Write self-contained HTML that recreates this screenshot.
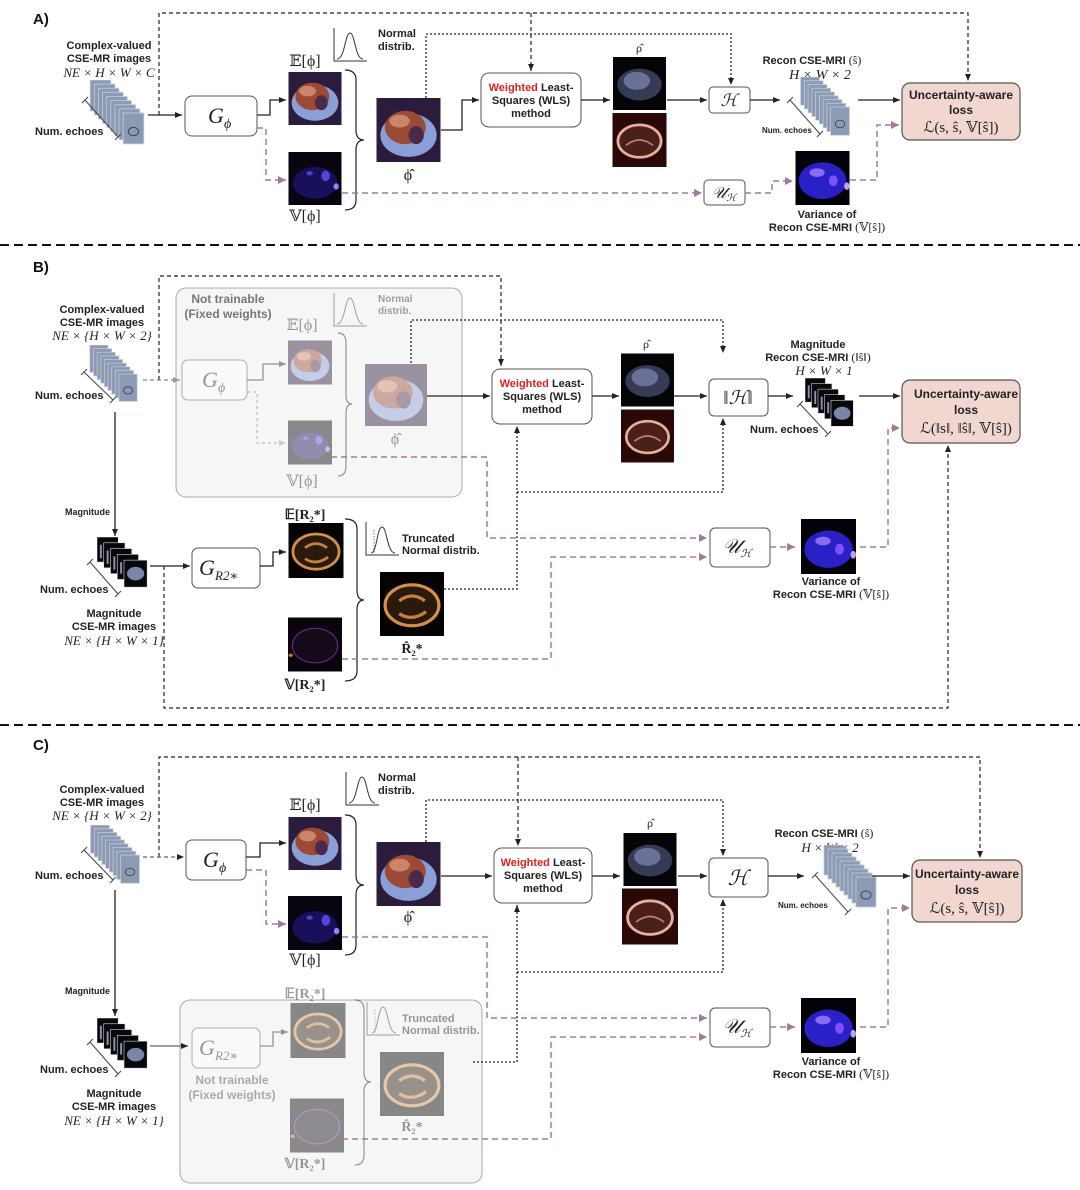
<!DOCTYPE html>
<html><head><meta charset="utf-8"><style>
html,body{margin:0;padding:0;background:#fff;}
svg{display:block;}
text{font-family:"Liberation Sans","DejaVu Sans",sans-serif;}
.b{font-weight:bold;font-size:11px;fill:#222;}
.m{font-family:"Liberation Serif","DejaVu Serif",serif;font-size:14px;fill:#222;}
.mi{font-family:"Liberation Serif","DejaVu Serif",serif;font-style:italic;font-size:13px;fill:#222;}
.box{fill:#fff;stroke:#555;stroke-width:1;}
.ln{fill:none;stroke:#222;stroke-width:1.3;}
.dt{fill:none;stroke:#222;stroke-width:1.3;stroke-dasharray:2,2;}
.ds{fill:none;stroke:#222;stroke-width:1.2;stroke-dasharray:4,3;}
.pp{fill:none;stroke:#a07a9c;stroke-width:1.5;stroke-dasharray:6,4;}
.br{fill:none;stroke:#222;stroke-width:1.2;}
.loss{fill:#f2d6d0;stroke:#555;stroke-width:1.2;}
</style></head><body>
<svg width="1080" height="1190" viewBox="0 0 1080 1190" xmlns="http://www.w3.org/2000/svg">
<defs>
<marker id="ak" markerWidth="8" markerHeight="8" refX="7" refY="4" orient="auto" markerUnits="userSpaceOnUse"><path d="M0,1 L7,4 L0,7z" fill="#222"/></marker>
<marker id="ag" markerWidth="8" markerHeight="8" refX="7" refY="4" orient="auto" markerUnits="userSpaceOnUse"><path d="M0,1 L7,4 L0,7z" fill="#999"/></marker>
<marker id="ap" markerWidth="10" markerHeight="10" refX="8" refY="5" orient="auto" markerUnits="userSpaceOnUse"><path d="M0,1 L8,5 L0,9z" fill="#a07a9c"/></marker>
<symbol id="phiE" viewBox="0 0 100 100"><rect width="100" height="100" fill="#2b1b3c"/><ellipse cx="50" cy="58" rx="44" ry="34" fill="#8a9ed8"/><ellipse cx="45" cy="46" rx="32" ry="26" fill="#9a4a35"/><ellipse cx="36" cy="36" rx="16" ry="10" fill="#e0a080" opacity=".7"/><ellipse cx="62" cy="58" rx="12" ry="14" fill="#4a2a48"/></symbol>
<symbol id="phiV" viewBox="0 0 100 100"><rect width="100" height="100" fill="#07050f"/><ellipse cx="50" cy="58" rx="42" ry="30" fill="#18105a"/><ellipse cx="70" cy="45" rx="8" ry="10" fill="#6a50ff" opacity=".8"/><ellipse cx="40" cy="40" rx="6" ry="4" fill="#5040d0"/><ellipse cx="90" cy="65" rx="5" ry="6" fill="#9a80ff"/></symbol>
<symbol id="rho1" viewBox="0 0 100 100"><rect width="100" height="100" fill="#050508"/><ellipse cx="50" cy="52" rx="42" ry="30" fill="#353a55"/><ellipse cx="45" cy="45" rx="25" ry="17" fill="#6a7096"/></symbol>
<symbol id="rho2" viewBox="0 0 100 100"><rect width="100" height="100" fill="#2a0806"/><ellipse cx="50" cy="52" rx="40" ry="30" fill="#4a2018" stroke="#e6b0a0" stroke-width="5"/><path d="M25 60 Q50 40 75 60" stroke="#c08070" stroke-width="3" fill="none"/></symbol>
<symbol id="r2E" viewBox="0 0 100 100"><rect width="100" height="100" fill="#050302"/><ellipse cx="50" cy="52" rx="42" ry="32" fill="#2a1a0e" stroke="#d49048" stroke-width="5"/><path d="M30 45 Q50 30 70 45 M30 65 Q50 78 72 62" stroke="#c88038" stroke-width="5" fill="none"/></symbol>
<symbol id="r2V" viewBox="0 0 100 100"><rect width="100" height="100" fill="#0a050c"/><ellipse cx="50" cy="52" rx="42" ry="32" fill="#140a1a" stroke="#6a2a8a" stroke-width="2"/><ellipse cx="5" cy="70" rx="4" ry="3" fill="#c07a30"/></symbol>
<symbol id="varS" viewBox="0 0 100 100"><rect width="100" height="100" fill="#030208"/><ellipse cx="50" cy="55" rx="44" ry="34" fill="#2a20c8"/><ellipse cx="40" cy="40" rx="14" ry="8" fill="#a080ff" opacity=".8"/><ellipse cx="70" cy="55" rx="8" ry="10" fill="#8050ff"/><ellipse cx="95" cy="65" rx="5" ry="7" fill="#c0a0ff"/></symbol>
<symbol id="stk" viewBox="0 0 60 66"><g fill="#8d9ab3" stroke="#c4cbd9" stroke-width=".8"><rect x="4" y="0" width="20" height="30"/><rect x="8" y="4" width="20" height="30"/><rect x="12" y="8" width="20" height="30"/><rect x="16" y="12" width="20" height="30"/><rect x="20" y="16" width="20" height="30"/><rect x="24" y="20" width="20" height="30"/><rect x="28" y="24" width="20" height="30"/><rect x="32" y="28" width="20" height="30"/><rect x="36" y="32" width="20" height="30"/></g><ellipse cx="46" cy="50" rx="5" ry="4" fill="none" stroke="#445" stroke-width="1"/></symbol>
<symbol id="mstk" viewBox="0 0 56 56"><g fill="#08080c" stroke="#ddd" stroke-width=".6"><rect x="0" y="0" width="22" height="26"/><rect x="7" y="6" width="22" height="26"/><rect x="14" y="12" width="22" height="26"/><rect x="21" y="18" width="22" height="26"/><rect x="28" y="24" width="24" height="28"/></g><ellipse cx="40" cy="38" rx="9" ry="7" fill="#7a86a8"/><path d="M4 8v14M11 14v14M18 20v14M25 26v12" stroke="#8a94b8" stroke-width="2"/></symbol>
<symbol id="nrm" viewBox="0 0 34 34"><path d="M1 0V33H34" fill="none" stroke="#333" stroke-width="1"/><path d="M4 31 C12 31 12 5 17 5 C22 5 22 31 30 31" fill="none" stroke="#333" stroke-width="1"/></symbol>
<symbol id="trn" viewBox="0 0 34 34"><path d="M1 0V33H34" fill="none" stroke="#333" stroke-width="1"/><path d="M6 31 C12 31 12 5 17 5 C22 5 22 31 30 31" fill="none" stroke="#333" stroke-width="1"/><path d="M9 8V31" stroke="#555" stroke-width=".8" stroke-dasharray="1.5,1.5"/></symbol>
</defs>

<line x1="0" y1="245" x2="1080" y2="245" stroke="#111" stroke-width="2" stroke-dasharray="9,5"/>
<line x1="0" y1="725" x2="1080" y2="725" stroke="#111" stroke-width="2" stroke-dasharray="9,5"/>

<!-- ================= A ================= -->
<text x="33" y="24" style="font-size:15px;font-weight:bold" fill="#111">A)</text>
<text class="b" x="109" y="49" text-anchor="middle">Complex-valued</text>
<text class="b" x="109" y="62" text-anchor="middle">CSE-MR images</text>
<text class="mi" x="109" y="77" text-anchor="middle">NE × H × W × C</text>
<use href="#stk" x="86" y="80" width="62" height="68"/>
<path d="M85 100 L118 137 M82 103 L88 97 M115 140 L121 134" stroke="#444" stroke-width="1"/>
<text class="b" x="35" y="135">Num. echoes</text>
<path class="ds" d="M159 115 V13 H968 V81" marker-end="url(#ak)"/>
<path class="ds" d="M531 13 V71" marker-end="url(#ak)"/>
<path class="ln" d="M148 115 H182" marker-end="url(#ak)"/>
<rect class="box" x="185" y="96" width="72" height="40" rx="7"/>
<text class="mi" x="208" y="123" style="font-size:22px">G</text><text class="mi" x="224" y="128" style="font-size:14px">ϕ</text>
<path class="ln" d="M257 115 H270 V100 H286" marker-end="url(#ak)"/>
<path class="pp" d="M257 128 H266 V180 H286" marker-end="url(#ap)"/>
<text class="m" x="305" y="66" text-anchor="middle" style="font-size:16px">𝔼[ϕ]</text>
<use href="#phiE" x="288" y="72" width="54" height="53"/>
<use href="#phiV" x="288" y="152" width="54" height="53"/>
<text class="m" x="305" y="221" text-anchor="middle" style="font-size:16px">𝕍[ϕ]</text>
<path class="br" d="M345 70 Q356 70 356 80 V130 Q356 140 364 140 Q356 140 356 150 V200 Q356 210 345 210"/>
<use href="#nrm" x="333" y="28" width="34" height="34"/>
<text class="b" x="378" y="37">Normal</text><text class="b" x="378" y="50">distrib.</text>
<use href="#phiE" x="376" y="98" width="65" height="64"/>
<text class="m" x="408" y="180" text-anchor="middle" style="font-size:16px">ϕ̂</text>
<path class="dt" d="M426 98 V34 H731 V85" marker-end="url(#ak)"/>
<path class="ln" d="M441 130 H462 V100 H479" marker-end="url(#ak)"/>
<rect class="box" x="481" y="73" width="100" height="54" rx="8"/>
<text class="b" x="531" y="91" text-anchor="middle"><tspan fill="#e02020">Weighted</tspan> Least-</text>
<text class="b" x="531" y="104" text-anchor="middle">Squares (WLS)</text>
<text class="b" x="531" y="117" text-anchor="middle">method</text>
<path class="ln" d="M581 100 H610" marker-end="url(#ak)"/>
<text class="m" x="639" y="52" text-anchor="middle" style="font-size:12px">ρ̂</text>
<use href="#rho1" x="612" y="57" width="55" height="53"/>
<use href="#rho2" x="612" y="113" width="55" height="54"/>
<path class="ln" d="M667 100 H707" marker-end="url(#ak)"/>
<rect class="box" x="709" y="87" width="41" height="26" rx="4"/>
<text class="mi" x="729" y="106" text-anchor="middle" style="font-size:17px">ℋ</text>
<path class="ln" d="M750 100 H780" marker-end="url(#ak)"/>
<text class="b" x="812" y="64" text-anchor="middle">Recon CSE-MRI <tspan class="m" style="font-size:12px;font-weight:normal">(ŝ)</tspan></text>
<text class="mi" x="820" y="79" text-anchor="middle" style="font-size:14px">H × W × 2</text>
<use href="#stk" x="795" y="77" width="60" height="62"/>
<path d="M790 100 L820 134 M787 103 L793 97 M817 137 L823 131" stroke="#444" stroke-width="1"/>
<text x="762" y="133" style="font-size:8px;font-weight:bold" fill="#222">Num. echoes</text>
<path class="ln" d="M858 100 H900" marker-end="url(#ak)"/>
<rect class="loss" x="902" y="83" width="118" height="57" rx="8"/>
<text class="b" x="961" y="99" text-anchor="middle" style="font-size:12px">Uncertainty-aware</text>
<text class="b" x="961" y="114" text-anchor="middle" style="font-size:12px">loss</text>
<text class="m" x="961" y="132" text-anchor="middle" style="font-size:15px">ℒ(s, ŝ, 𝕍[ŝ])</text>
<path class="pp" d="M342 193 H702" marker-end="url(#ap)"/>
<rect class="box" x="704" y="180" width="41" height="25" rx="4"/>
<text class="mi" x="724" y="198" text-anchor="middle" style="font-size:16px">𝒰<tspan style="font-size:10px" dy="3">ℋ</tspan></text>
<path class="pp" d="M745 193 H772 V181 H793" marker-end="url(#ap)"/>
<use href="#varS" x="795" y="151" width="55" height="54"/>
<text class="b" x="827" y="218" text-anchor="middle">Variance of</text>
<text class="b" x="827" y="231" text-anchor="middle">Recon CSE-MRI <tspan class="m" style="font-size:12px;font-weight:normal">(𝕍[ŝ])</tspan></text>
<path class="pp" d="M850 180 H877 V125 H899" marker-end="url(#ap)"/>

<!-- ================= B ================= -->
<text x="33" y="272" style="font-size:15px;font-weight:bold" fill="#111">B)</text>
<rect x="176" y="288" width="286" height="209" rx="10" fill="#f6f6f6" stroke="#aaa" stroke-width="1"/>
<text x="228" y="303" style="font-size:12px;font-weight:bold" fill="#777" text-anchor="middle">Not trainable</text>
<text x="228" y="318" style="font-size:12px;font-weight:bold" fill="#777" text-anchor="middle">(Fixed weights)</text>
<text class="b" x="102" y="313" text-anchor="middle">Complex-valued</text>
<text class="b" x="102" y="326" text-anchor="middle">CSE-MR images</text>
<text class="mi" x="102" y="340" text-anchor="middle">NE × {H × W × 2}</text>
<use href="#stk" x="86" y="345" width="55" height="60"/>
<path d="M84 372 L113 400 M81 375 L87 369 M110 403 L116 397" stroke="#444" stroke-width="1"/>
<text class="b" x="35" y="399">Num. echoes</text>
<path class="ds" d="M159 380 V276 H501 V366" marker-end="url(#ak)"/>
<path d="M143 380 H180" fill="none" stroke="#888" stroke-width="1.2" stroke-dasharray="4,3" marker-end="url(#ag)"/>
<g opacity="0.45">
<rect class="box" x="182" y="360" width="65" height="40" rx="6"/>
<text class="mi" x="202" y="387" style="font-size:22px">G</text><text class="mi" x="218" y="392" style="font-size:14px">ϕ</text>
<path class="ln" d="M247 380 H263 V364 H286" marker-end="url(#ak)"/>
<path d="M247 392 H257 V443 H286" fill="none" stroke="#777" stroke-width="1.2" stroke-dasharray="3,3" marker-end="url(#ag)"/>
<text class="m" x="302" y="330" text-anchor="middle" style="font-size:16px">𝔼[ϕ]</text>
<use href="#phiE" x="288" y="336" width="44" height="53"/>
<use href="#phiV" x="288" y="416" width="44" height="53"/>
<text class="m" x="302" y="486" text-anchor="middle" style="font-size:16px">𝕍[ϕ]</text>
<path class="br" d="M338 333 Q346 333 346 343 V395 Q346 404 352 404 Q346 404 346 414 V466 Q346 476 338 476"/>
<use href="#nrm" x="333" y="293" width="34" height="34"/>
<text x="378" y="302" style="font-size:10px;font-weight:bold" fill="#333">Normal</text><text x="378" y="314" style="font-size:10px;font-weight:bold" fill="#333">distrib.</text>
<use href="#phiE" x="365" y="363" width="62" height="64"/>
<text class="m" x="395" y="444" text-anchor="middle" style="font-size:16px">ϕ̂</text>
</g>
<path class="dt" d="M411 363 V320 H723 V353" marker-end="url(#ak)"/>
<path class="ln" d="M427 396 H490" marker-end="url(#ak)"/>
<rect class="box" x="492" y="369" width="100" height="55" rx="8"/>
<text class="b" x="542" y="387" text-anchor="middle"><tspan fill="#e02020">Weighted</tspan> Least-</text>
<text class="b" x="542" y="400" text-anchor="middle">Squares (WLS)</text>
<text class="b" x="542" y="413" text-anchor="middle">method</text>
<path class="ln" d="M592 396 H619" marker-end="url(#ak)"/>
<text class="m" x="646" y="348" text-anchor="middle" style="font-size:12px">ρ̂</text>
<use href="#rho1" x="621" y="353" width="53" height="54"/>
<use href="#rho2" x="621" y="409" width="53" height="54"/>
<path class="ln" d="M674 396 H707" marker-end="url(#ak)"/>
<rect class="box" x="709" y="379" width="59" height="37" rx="5"/>
<text class="mi" x="738" y="404" text-anchor="middle" style="font-size:19px">‖ℋ‖</text>
<path class="ln" d="M768 396 H793" marker-end="url(#ak)"/>
<text class="b" x="818" y="348" text-anchor="middle">Magnitude</text>
<text class="b" x="818" y="361" text-anchor="middle">Recon CSE-MRI <tspan class="m" style="font-size:12px;font-weight:normal">(‖ŝ‖)</tspan></text>
<text class="mi" x="824" y="375" text-anchor="middle">H × W × 1</text>
<use href="#mstk" x="805" y="378" width="52" height="52"/>
<path d="M800 404 L828 434 M797 407 L803 401 M825 437 L831 431" stroke="#444" stroke-width="1"/>
<text class="b" x="750" y="433">Num. echoes</text>
<path class="ln" d="M859 396 H900" marker-end="url(#ak)"/>
<rect class="loss" x="902" y="380" width="118" height="63" rx="8"/>
<text class="b" x="966" y="398" text-anchor="middle" style="font-size:12px">Uncertainty-aware</text>
<text class="b" x="966" y="414" text-anchor="middle" style="font-size:12px">loss</text>
<text class="m" x="966" y="433" text-anchor="middle" style="font-size:15px">ℒ(‖s‖, ‖ŝ‖, 𝕍[ŝ])</text>
<path class="dt" d="M444 589 H517 V426" marker-end="url(#ak)"/>
<path class="dt" d="M517 492 H723 V418" marker-end="url(#ak)"/>
<path class="ln" d="M115 412 V536" marker-end="url(#ak)"/>
<text class="b" x="65" y="515" style="font-size:9px">Magnitude</text>
<use href="#mstk" x="97" y="537" width="54" height="54"/>
<path d="M90 562 L118 594 M87 565 L93 559 M115 597 L121 591" stroke="#444" stroke-width="1"/>
<text class="b" x="40" y="593">Num. echoes</text>
<text class="b" x="114" y="617" text-anchor="middle">Magnitude</text>
<text class="b" x="114" y="630" text-anchor="middle">CSE-MR images</text>
<text class="mi" x="114" y="645" text-anchor="middle">NE × {H × W × 1}</text>
<path class="ln" d="M150 566 H190" marker-end="url(#ak)"/>
<path class="ds" d="M164 566 V708 H948 V445" marker-end="url(#ak)"/>
<rect class="box" x="192" y="548" width="68" height="40" rx="6"/>
<text class="mi" x="199" y="575" style="font-size:22px">G</text><text class="mi" x="215" y="580" style="font-size:13px">R2∗</text>
<path class="ln" d="M260 566 H273 V552 H286" marker-end="url(#ak)"/>
<text class="m" x="305" y="519" text-anchor="middle" style="font-weight:bold">𝔼[R₂*]</text>
<use href="#r2E" x="288" y="523" width="56" height="55"/>
<use href="#r2V" x="288" y="617" width="54" height="55"/>
<text class="m" x="305" y="689" text-anchor="middle" style="font-weight:bold">𝕍[R₂*]</text>
<path class="br" d="M345 519 Q357 519 357 529 V590 Q357 600 364 600 Q357 600 357 610 V671 Q357 681 345 681"/>
<use href="#trn" x="365" y="522" width="34" height="34"/>
<text class="b" x="402" y="542">Truncated</text><text class="b" x="402" y="554">Normal distrib.</text>
<use href="#r2E" x="380" y="572" width="64" height="64"/>
<text class="m" x="412" y="653" text-anchor="middle" style="font-weight:bold">R̂₂*</text>
<path class="pp" d="M331 457 H487 V538 H707" marker-end="url(#ap)"/>
<path class="pp" d="M342 659 H551 V557 H707" marker-end="url(#ap)"/>
<rect class="box" x="710" y="528" width="60" height="39" rx="5"/>
<text class="mi" x="737" y="553" text-anchor="middle" style="font-size:20px">𝒰<tspan style="font-size:11px" dy="4">ℋ</tspan></text>
<path class="pp" d="M770 547 H795" marker-end="url(#ap)"/>
<use href="#varS" x="797" y="519" width="63" height="55"/>
<text class="b" x="831" y="585" text-anchor="middle">Variance of</text>
<text class="b" x="831" y="598" text-anchor="middle">Recon CSE-MRI <tspan class="m" style="font-size:12px;font-weight:normal">(𝕍[ŝ])</tspan></text>
<path class="pp" d="M860 547 H888 V428 H900" marker-end="url(#ap)"/>

<!-- ================= C ================= -->
<text x="33" y="750" style="font-size:15px;font-weight:bold" fill="#111">C)</text>
<rect x="180" y="1000" width="302" height="183" rx="10" fill="#f6f6f6" stroke="#aaa" stroke-width="1"/>
<text class="b" x="102" y="793" text-anchor="middle">Complex-valued</text>
<text class="b" x="102" y="806" text-anchor="middle">CSE-MR images</text>
<text class="mi" x="102" y="820" text-anchor="middle">NE × {H × W × 2}</text>
<use href="#stk" x="86" y="825" width="58" height="62"/>
<path d="M84 850 L113 880 M81 853 L87 847 M110 883 L116 877" stroke="#444" stroke-width="1"/>
<text class="b" x="35" y="879">Num. echoes</text>
<path class="ds" d="M159 857 V757 H980 V858" marker-end="url(#ak)"/>
<path class="ds" d="M518 757 V846" marker-end="url(#ak)"/>
<path d="M143 857 H184" fill="none" stroke="#666" stroke-width="1.2" stroke-dasharray="4,3" marker-end="url(#ak)"/>
<rect class="box" x="186" y="840" width="60" height="40" rx="6"/>
<text class="mi" x="203" y="867" style="font-size:22px">G</text><text class="mi" x="219" y="872" style="font-size:14px">ϕ</text>
<path class="ln" d="M246 857 H260 V843 H286" marker-end="url(#ak)"/>
<path class="pp" d="M246 870 H266 V924 H286" marker-end="url(#ap)"/>
<text class="m" x="305" y="810" text-anchor="middle" style="font-size:16px">𝔼[ϕ]</text>
<use href="#phiE" x="288" y="817" width="54" height="53"/>
<use href="#phiV" x="288" y="896" width="54" height="54"/>
<text class="m" x="305" y="965" text-anchor="middle" style="font-size:16px">𝕍[ϕ]</text>
<path class="br" d="M345 815 Q356 815 356 825 V875 Q356 885 364 885 Q356 885 356 895 V945 Q356 955 345 955"/>
<use href="#nrm" x="345" y="772" width="34" height="34"/>
<text class="b" x="378" y="781">Normal</text><text class="b" x="378" y="794">distrib.</text>
<use href="#phiE" x="376" y="842" width="65" height="64"/>
<text class="m" x="408" y="922" text-anchor="middle" style="font-size:16px">ϕ̂</text>
<path class="dt" d="M426 842 V800 H723 V856" marker-end="url(#ak)"/>
<path class="ln" d="M441 876 H492" marker-end="url(#ak)"/>
<rect class="box" x="494" y="848" width="98" height="55" rx="8"/>
<text class="b" x="543" y="866" text-anchor="middle"><tspan fill="#e02020">Weighted</tspan> Least-</text>
<text class="b" x="543" y="879" text-anchor="middle">Squares (WLS)</text>
<text class="b" x="543" y="892" text-anchor="middle">method</text>
<path class="ln" d="M592 876 H620" marker-end="url(#ak)"/>
<text class="m" x="650" y="827" text-anchor="middle" style="font-size:12px">ρ̂</text>
<use href="#rho1" x="622" y="833" width="56" height="53"/>
<use href="#rho2" x="622" y="888" width="56" height="57"/>
<path class="ln" d="M678 876 H707" marker-end="url(#ak)"/>
<rect class="box" x="709" y="858" width="59" height="39" rx="5"/>
<text class="mi" x="738" y="885" text-anchor="middle" style="font-size:21px">ℋ</text>
<path class="ln" d="M768 876 H804" marker-end="url(#ak)"/>
<text class="b" x="824" y="837" text-anchor="middle">Recon CSE-MRI <tspan class="m" style="font-size:12px;font-weight:normal">(ŝ)</tspan></text>
<text class="mi" x="830" y="852" text-anchor="middle">H × W × 2</text>
<use href="#stk" x="820" y="845" width="60" height="66"/>
<path d="M815 875 L848 912 M812 878 L818 872 M845 915 L851 909" stroke="#444" stroke-width="1"/>
<text x="778" y="908" style="font-size:8px;font-weight:bold" fill="#222">Num. echoes</text>
<path class="ln" d="M872 876 H910" marker-end="url(#ak)"/>
<rect class="loss" x="912" y="860" width="110" height="62" rx="8"/>
<text class="b" x="967" y="878" text-anchor="middle" style="font-size:12px">Uncertainty-aware</text>
<text class="b" x="967" y="894" text-anchor="middle" style="font-size:12px">loss</text>
<text class="m" x="967" y="913" text-anchor="middle" style="font-size:15px">ℒ(s, ŝ, 𝕍[ŝ])</text>
<path class="dt" d="M473 1062 H517 V905" marker-end="url(#ak)"/>
<path class="dt" d="M517 972 H723 V899" marker-end="url(#ak)"/>
<path class="ln" d="M115 890 V1016" marker-end="url(#ak)"/>
<text class="b" x="65" y="994" style="font-size:9px">Magnitude</text>
<use href="#mstk" x="97" y="1018" width="54" height="54"/>
<path d="M90 1042 L118 1074 M87 1045 L93 1039 M115 1077 L121 1071" stroke="#444" stroke-width="1"/>
<text class="b" x="40" y="1073">Num. echoes</text>
<text class="b" x="114" y="1097" text-anchor="middle">Magnitude</text>
<text class="b" x="114" y="1110" text-anchor="middle">CSE-MR images</text>
<text class="mi" x="114" y="1125" text-anchor="middle">NE × {H × W × 1}</text>
<path d="M150 1046 H188" fill="none" stroke="#666" stroke-width="1.3" marker-end="url(#ak)"/>
<g opacity="0.45">
<rect class="box" x="192" y="1028" width="68" height="40" rx="6"/>
<text class="mi" x="199" y="1055" style="font-size:22px">G</text><text class="mi" x="215" y="1060" style="font-size:13px">R2∗</text>
<path class="ln" d="M260 1046 H273 V1032 H288" marker-end="url(#ak)"/>
<text class="m" x="305" y="998" text-anchor="middle" style="font-weight:bold">𝔼[R₂*]</text>
<use href="#r2E" x="290" y="1003" width="56" height="55"/>
<use href="#r2V" x="290" y="1098" width="54" height="55"/>
<text class="m" x="305" y="1168" text-anchor="middle" style="font-weight:bold">𝕍[R₂*]</text>
<path class="br" d="M355 1000 Q364 1000 364 1010 V1072 Q364 1082 371 1082 Q364 1082 364 1092 V1155 Q364 1165 355 1165"/>
<use href="#trn" x="366" y="1002" width="34" height="34"/>
<text class="b" x="402" y="1022">Truncated</text><text class="b" x="402" y="1034">Normal distrib.</text>
<use href="#r2E" x="380" y="1052" width="64" height="64"/>
<text class="m" x="412" y="1131" text-anchor="middle" style="font-weight:bold">R̂₂*</text>
</g>
<text x="232" y="1084" style="font-size:12px;font-weight:bold" fill="#aaa" text-anchor="middle">Not trainable</text>
<text x="232" y="1099" style="font-size:12px;font-weight:bold" fill="#aaa" text-anchor="middle">(Fixed weights)</text>
<path class="pp" d="M342 937 H487 V1018 H707" marker-end="url(#ap)"/>
<path class="pp" d="M342 1139 H551 V1037 H707" marker-end="url(#ap)"/>
<rect class="box" x="710" y="1008" width="60" height="39" rx="5"/>
<text class="mi" x="737" y="1033" text-anchor="middle" style="font-size:20px">𝒰<tspan style="font-size:11px" dy="4">ℋ</tspan></text>
<path class="pp" d="M770 1027 H795" marker-end="url(#ap)"/>
<use href="#varS" x="797" y="998" width="63" height="55"/>
<text class="b" x="831" y="1065" text-anchor="middle">Variance of</text>
<text class="b" x="831" y="1078" text-anchor="middle">Recon CSE-MRI <tspan class="m" style="font-size:12px;font-weight:normal">(𝕍[ŝ])</tspan></text>
<path class="pp" d="M860 1027 H888 V908 H910" marker-end="url(#ap)"/>
</svg>
</body></html>
